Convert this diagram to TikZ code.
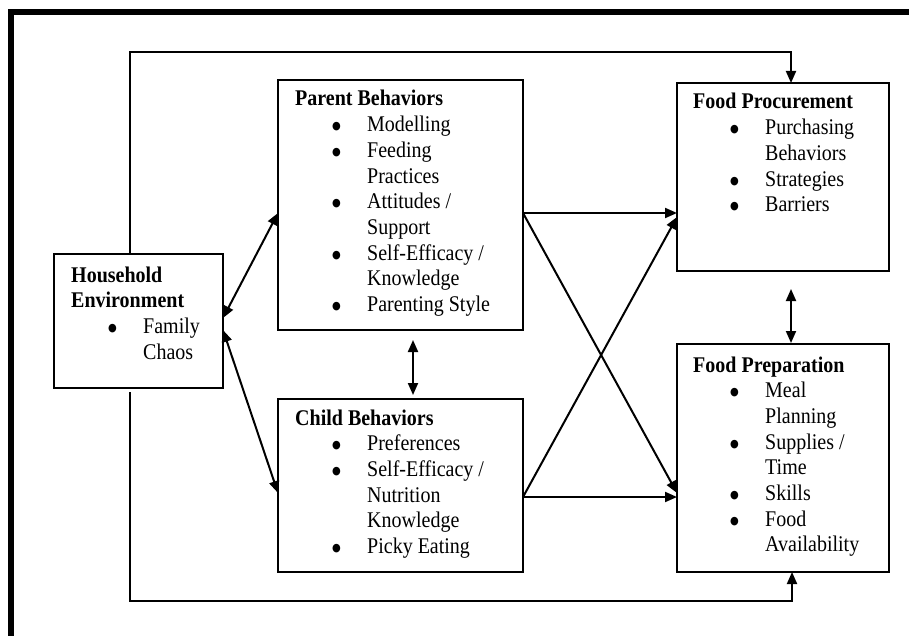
\documentclass[tikz,border=0pt]{standalone}
\usepackage{fontspec}
\usepackage{graphicx}
\setmainfont{Liberation Serif}
\newfontfamily\symfont{DejaVu Sans}
\usetikzlibrary{arrows.meta,calc}
\newcommand\bul{\makebox[72pt][l]{\hspace{37pt}\raisebox{1.8pt}{\symfont\fontsize{10}{10}\selectfont ●}}}
\newcommand\nob{\hspace*{72pt}}
\newcommand\stretchtext[1]{\scalebox{1}[1.12]{#1}}
\begin{document}
\begin{tikzpicture}[x=1pt,y=-1pt,
  box/.style={draw, line width=1.3pt, anchor=north west, inner sep=0pt, outer sep=0pt},
  txt/.style={anchor=base west, inner sep=0pt, font=\fontsize{20}{22.95}\selectfont},
  conn/.style={line width=2pt},
  arr/.style={conn, -{Triangle[length=12pt,width=10pt]}},
  darr/.style={conn, {Triangle[length=12pt,width=10pt]}-{Triangle[length=12pt,width=10pt]}}]
\useasboundingbox (0,0) rectangle (909,636);
\fill[white] (0,0) rectangle (909,636);
% outer frame (top and left edges)
\draw[line width=6pt] (11,636) -- (11,12) -- (909,12);

% boxes
\node[box, minimum width=169pt, minimum height=134pt] (he)  at (54,254) {};
\node[box, minimum width=245pt, minimum height=250pt] (pb)  at (278,80) {};
\node[box, minimum width=245pt, minimum height=173pt] (cb)  at (278,399) {};
\node[box, minimum width=212pt, minimum height=188pt] (fp)  at (677,83) {};
\node[box, minimum width=212pt, minimum height=228pt] (fpr) at (677,344) {};

% texts
\node[txt] (heT) at ([shift={(17,28)}]he.north west) {\stretchtext{\begin{tabular}[t]{@{}l@{}}
\textbf{Household}\\ \textbf{Environment}\\ \bul Family\\ \nob Chaos\end{tabular}}};
\node[txt] (pbT) at ([shift={(17,26)}]pb.north west) {\stretchtext{\begin{tabular}[t]{@{}l@{}}
\textbf{Parent Behaviors}\\ \bul Modelling\\ \bul Feeding\\ \nob Practices\\
\bul Attitudes /\\ \nob Support\\ \bul Self-Efficacy /\\ \nob Knowledge\\
\bul Parenting Style\end{tabular}}};
\node[txt] (cbT) at ([shift={(17,26)}]cb.north west) {\stretchtext{\begin{tabular}[t]{@{}l@{}}
\textbf{Child Behaviors}\\ \bul Preferences\\ \bul Self-Efficacy /\\ \nob Nutrition\\
\nob Knowledge\\ \bul Picky Eating\end{tabular}}};
\node[txt] (fpT) at ([shift={(16,26)}]fp.north west) {\stretchtext{\begin{tabular}[t]{@{}l@{}}
\textbf{Food Procurement}\\ \bul Purchasing\\ \nob Behaviors\\ \bul Strategies\\
\bul Barriers\end{tabular}}};
\node[txt] (fprT) at ([shift={(16,28)}]fpr.north west) {\stretchtext{\begin{tabular}[t]{@{}l@{}}
\textbf{Food Preparation}\\ \bul Meal\\ \nob Planning\\ \bul Supplies /\\ \nob Time\\
\bul Skills\\ \bul Food\\ \nob Availability\end{tabular}}};

% routing coordinates
\coordinate (tl) at (130,52);
\coordinate (tr) at (791,52);
\coordinate (bl) at (130,601);
\coordinate (br) at (792,601);
\coordinate (mid) at (413,0);

% outer routes
\draw[arr] (he.north -| tl) -- (tl) -- (tr) -- (tr |- fp.north);
\draw[arr, shorten <=4pt] (he.south -| bl) -- (bl) -- (br) -- (br |- fpr.south);

% vertical double arrows
\draw[darr, shorten <=10pt, shorten >=4pt] (pb.south -| mid) -- (cb.north -| mid);
\draw[darr, shorten <=18pt, shorten >=1pt] (fp.south -| tr) -- (fpr.north -| tr);

% household to parent / child
\draw[darr] ([yshift=3pt]he.east) -- ([yshift=-8pt]pb.west);
\draw[darr] ([yshift=-9pt]he.east) -- ([yshift=-7.5pt]cb.west);

% cross connections
\coordinate (pbo) at ([yshift=-8pt]pb.east);
\coordinate (cbo) at ([yshift=-11.5pt]cb.east);
\draw[arr] (pbo) -- ([yshift=-36pt]fp.west);
\draw[arr] (pbo) -- ([yshift=-35pt]fpr.west);
\draw[arr] (cbo) -- ([yshift=-39pt]fpr.west);
\draw[arr] (cbo) -- ([yshift=-40pt]fp.west);
\end{tikzpicture}
\end{document}
